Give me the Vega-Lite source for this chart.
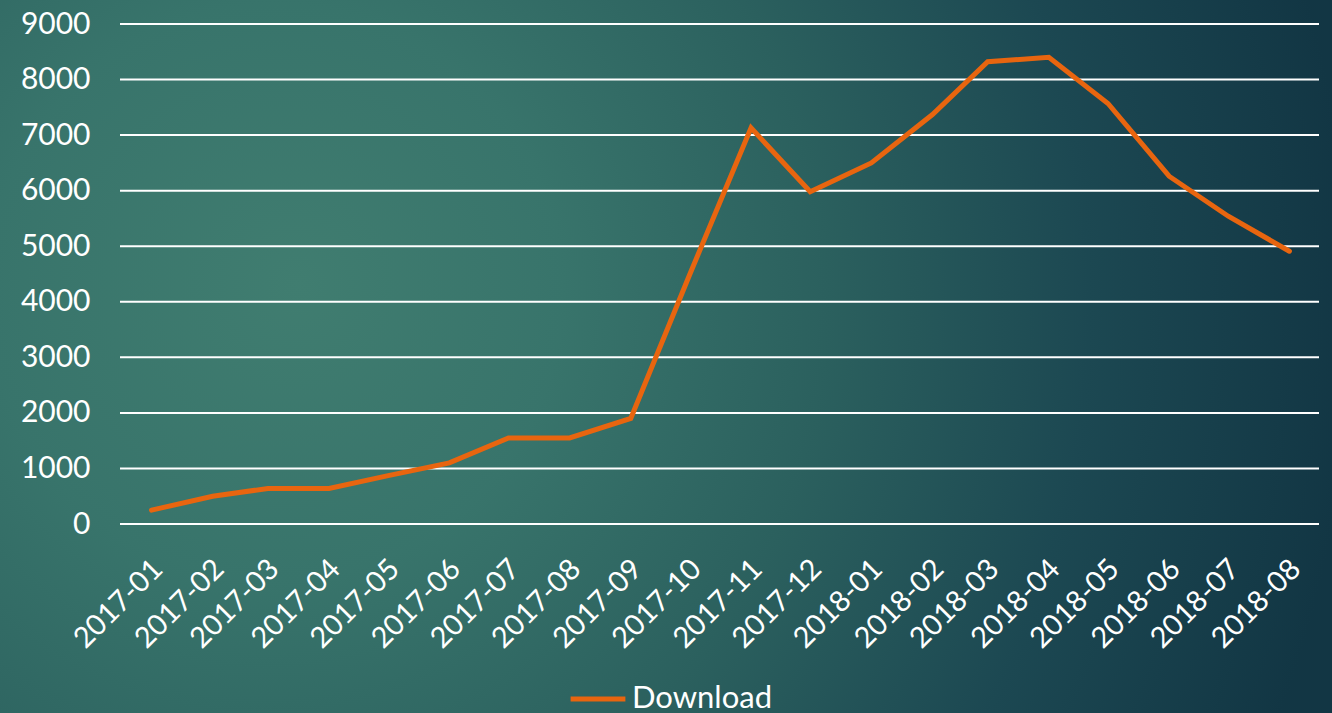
{
  "$schema": "https://vega.github.io/schema/vega-lite/v6.json",
  "width": 1199,
  "height": 500,
  "autosize": "none",
  "padding": {"left": 120, "top": 24, "right": 13, "bottom": 189},
  "background": "#2a5d5c",
  "config": {
    "font": "Lato",
    "view": {"stroke": null},
    "axis": {"labelFont": "Lato", "labelColor": "#ffffff", "domain": false, "ticks": false, "grid": false},
    "legend": {"labelFont": "Lato"}
  },
  "layer": [
    {
      "data": {"values": [{}]},
      "mark": {
        "type": "rect",
        "clip": false,
        "fill": {
          "gradient": "radial",
          "x1": 0.229, "y1": 0.469, "r1": 0,
          "x2": 0.16, "y2": 0.49, "r2": 0.8,
          "stops": [
            {"offset": 0, "color": "#407d70"},
            {"offset": 0.25, "color": "#38746b"},
            {"offset": 0.5, "color": "#2b605e"},
            {"offset": 0.75, "color": "#1c4852"},
            {"offset": 1, "color": "#123644"}
          ]
        }
      },
      "encoding": {
        "x": {
          "datum": {"year": 2016, "month": 10, "date": 1, "utc": true},
          "type": "temporal",
          "title": null,
          "scale": {"type": "utc", "nice": false, "domain": [{"year": 2016, "month": 12, "date": 16, "utc": true}, {"year": 2018, "month": 8, "date": 16, "utc": true}]},
          "axis": {"labelExpr": "utcFormat(datum.value, '%Y-%m')", "tickCount": {"interval": "month", "step": 1}, "labelAngle": -45, "labelAlign": "right", "labelBaseline": "middle", "labelFontSize": 29, "labelPadding": 40, "labelOffset": 6, "labelOverlap": false, "labelFlush": false, "labelBound": false, "grid": false, "zindex": 1}
        },
        "x2": {"datum": {"year": 2018, "month": 10, "date": 1, "utc": true}},
        "y": {
          "datum": 12000,
          "type": "quantitative",
          "title": null,
          "scale": {"domain": [0, 9000], "nice": false, "zero": true},
          "axis": {"values": [0, 1000, 2000, 3000, 4000, 5000, 6000, 7000, 8000, 9000], "format": "d", "grid": false, "labelFontSize": 30, "labelPadding": 30, "zindex": 1}
        },
        "y2": {"datum": -5000}
      }
    },
    {
      "data": {"values": [{"level": 0}, {"level": 1000}, {"level": 2000}, {"level": 3000}, {"level": 4000}, {"level": 5000}, {"level": 6000}, {"level": 7000}, {"level": 8000}, {"level": 9000}]},
      "mark": {"type": "rule", "color": "#ffffff", "strokeWidth": 2},
      "encoding": {
        "y": {
          "field": "level",
          "type": "quantitative",
          "title": null,
          "scale": {"domain": [0, 9000], "nice": false, "zero": true},
          "axis": {"values": [0, 1000, 2000, 3000, 4000, 5000, 6000, 7000, 8000, 9000], "format": "d", "grid": false, "labelFontSize": 30, "labelPadding": 30, "zindex": 1}
        }
      }
    },
    {
      "data": {
        "values": [
          {"month": "2017-01-01", "downloads": 250, "series": "Download"},
          {"month": "2017-02-01", "downloads": 500, "series": "Download"},
          {"month": "2017-03-01", "downloads": 640, "series": "Download"},
          {"month": "2017-04-01", "downloads": 640, "series": "Download"},
          {"month": "2017-05-01", "downloads": 870, "series": "Download"},
          {"month": "2017-06-01", "downloads": 1100, "series": "Download"},
          {"month": "2017-07-01", "downloads": 1550, "series": "Download"},
          {"month": "2017-08-01", "downloads": 1550, "series": "Download"},
          {"month": "2017-09-01", "downloads": 1900, "series": "Download"},
          {"month": "2017-10-01", "downloads": 4500, "series": "Download"},
          {"month": "2017-11-01", "downloads": 7130, "series": "Download"},
          {"month": "2017-12-01", "downloads": 5980, "series": "Download"},
          {"month": "2018-01-01", "downloads": 6500, "series": "Download"},
          {"month": "2018-02-01", "downloads": 7370, "series": "Download"},
          {"month": "2018-03-01", "downloads": 8320, "series": "Download"},
          {"month": "2018-04-01", "downloads": 8400, "series": "Download"},
          {"month": "2018-05-01", "downloads": 7570, "series": "Download"},
          {"month": "2018-06-01", "downloads": 6260, "series": "Download"},
          {"month": "2018-07-01", "downloads": 5540, "series": "Download"},
          {"month": "2018-08-01", "downloads": 4910, "series": "Download"}
        ]
      },
      "mark": {"type": "line", "strokeWidth": 5, "strokeCap": "round", "strokeJoin": "miter"},
      "encoding": {
        "x": {
          "field": "month",
          "type": "temporal",
          "title": null,
          "scale": {"type": "utc", "nice": false, "domain": [{"year": 2016, "month": 12, "date": 16, "utc": true}, {"year": 2018, "month": 8, "date": 16, "utc": true}]},
          "axis": {"labelExpr": "utcFormat(datum.value, '%Y-%m')", "tickCount": {"interval": "month", "step": 1}, "labelAngle": -45, "labelAlign": "right", "labelBaseline": "middle", "labelFontSize": 29, "labelPadding": 40, "labelOffset": 6, "labelOverlap": false, "labelFlush": false, "labelBound": false, "grid": false, "zindex": 1}
        },
        "y": {
          "field": "downloads",
          "type": "quantitative",
          "title": null,
          "scale": {"domain": [0, 9000], "nice": false, "zero": true},
          "axis": {"values": [0, 1000, 2000, 3000, 4000, 5000, 6000, 7000, 8000, 9000], "format": "d", "grid": false, "labelFontSize": 30, "labelPadding": 30, "zindex": 1}
        },
        "color": {
          "field": "series",
          "type": "nominal",
          "scale": {"range": ["#e8650f"]},
          "legend": {
            "orient": "none",
            "legendX": 448,
            "legendY": 645,
            "direction": "horizontal",
            "title": null,
            "labelFontSize": 31,
            "labelColor": "#ffffff",
            "symbolType": "stroke",
            "symbolStrokeWidth": 5,
            "symbolSize": 3000,
            "zindex": 1
          }
        }
      }
    }
  ]
}
